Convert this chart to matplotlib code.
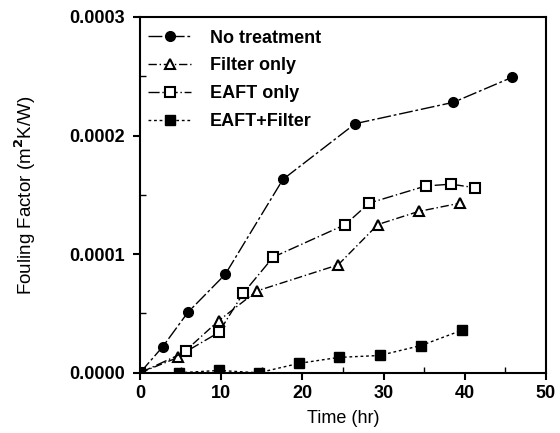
import matplotlib.pyplot as plt
from matplotlib.ticker import MultipleLocator, FormatStrFormatter

plt.rcParams['font.family'] = ['Liberation Sans', 'DejaVu Sans']
plt.rcParams['font.weight'] = 'bold'

# time (hr) and fouling factor (m2K/W)
t_none = [0, 2.8, 5.9, 10.5, 17.6, 26.5, 38.6, 45.8]
f_none = [0, 0.000022, 0.000051, 0.000083, 0.000163, 0.000210, 0.000228, 0.000249]

t_filter = [0, 4.7, 9.7, 14.4, 24.4, 29.3, 34.3, 39.4]
f_filter = [0, 0.000013, 0.000044, 0.000069, 0.000091, 0.000125, 0.000136, 0.000143]

t_eaft = [0, 5.7, 9.7, 12.7, 16.4, 25.3, 28.2, 35.2, 38.3, 41.3]
f_eaft = [0, 0.000018, 0.000034, 0.000067, 0.0000975, 0.000125, 0.000143, 0.0001575, 0.000159, 0.000156]

t_both = [0, 4.8, 9.7, 14.6, 19.6, 24.5, 29.5, 34.6, 39.7]
f_both = [0, 0, 0.000002, 0, 0.000008, 0.000013, 0.0000146, 0.000023, 0.000036]

labels = ['No treatment', 'Filter only', 'EAFT only', 'EAFT+Filter']

fig = plt.figure(figsize=(5.6, 4.33), dpi=100)
ax = fig.add_axes([0.25, 0.139, 0.725, 0.822])

ax.plot(t_none, f_none, color='black', lw=1, linestyle=(0, (10, 2, 2, 2)),
        marker='o', ms=7, mfc='black', label=labels[0])
ax.plot(t_filter, f_filter, color='black', lw=1, linestyle=(0, (6, 2, 1, 2)),
        marker='^', ms=7, mfc='white', mew=1.5, label=labels[1])
ax.plot(t_eaft, f_eaft, color='black', lw=1, linestyle=(0, (8, 2, 1, 2)),
        marker='s', ms=7, mfc='white', mew=1.5, label=labels[2])
ax.plot(t_both, f_both, color='black', lw=1, linestyle=(0, (2, 2)),
        marker='s', ms=7, mfc='black', label=labels[3])

ax.set_xlim(0, 50)
ax.set_ylim(0, 0.0003)
ax.xaxis.set_major_locator(MultipleLocator(10))
ax.xaxis.set_minor_locator(MultipleLocator(5))
ax.yaxis.set_major_locator(MultipleLocator(0.0001))
ax.yaxis.set_minor_locator(MultipleLocator(0.00005))
ax.yaxis.set_major_formatter(FormatStrFormatter('%.4f'))
ax.tick_params(which='major', direction='out', length=5, width=1.5, labelsize=13)
ax.tick_params(axis='y', which='major', pad=6)
ax.tick_params(which='minor', direction='in', length=4, width=1)
for s in ax.spines.values():
    s.set_linewidth(1.5)

ax.set_xlabel('Time (hr)', fontsize=13, fontweight='normal', labelpad=6)
ax.set_ylabel('Fouling Factor (m$^2$K/W)', fontsize=13.5, fontweight='normal', labelpad=22)

ax.legend(loc='upper left', frameon=False, fontsize=13, handlelength=2.4,
          handletextpad=1.0, bbox_to_anchor=(-0.02, 1.01), labelspacing=0.6)

fig.savefig('out.png', dpi=100)
